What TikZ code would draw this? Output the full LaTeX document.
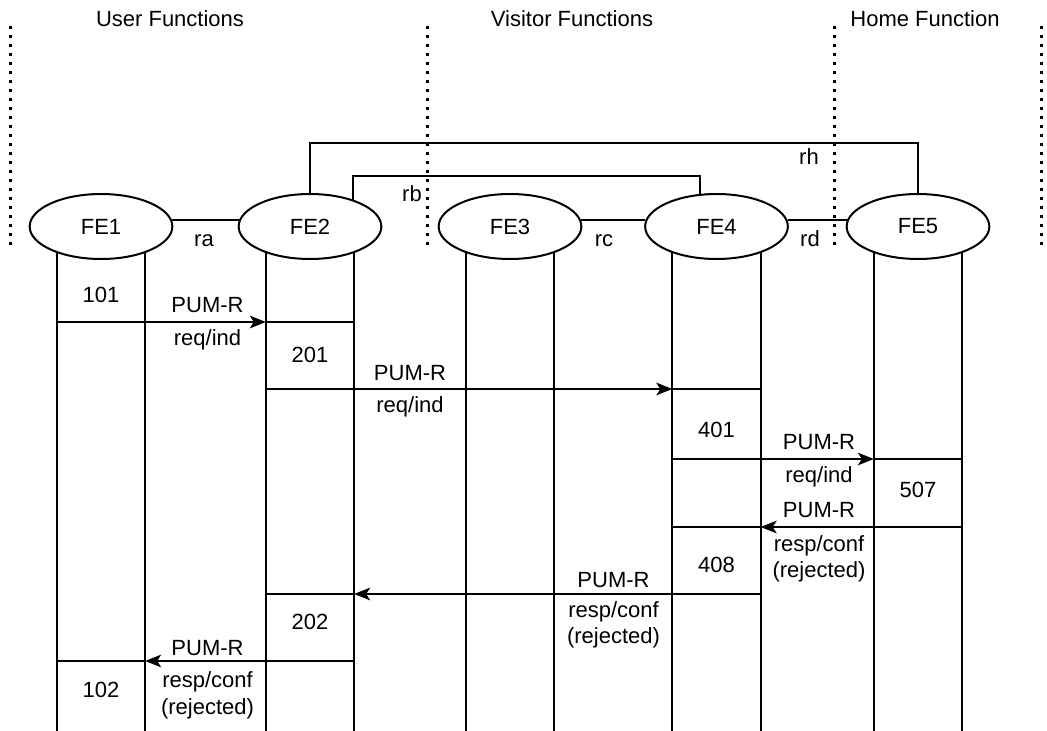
\documentclass[tikz,border=0pt]{standalone}
\usepackage{fontspec}
\setmainfont{Liberation Sans}
\usetikzlibrary{arrows.meta,shapes.geometric}
\begin{document}
\begin{tikzpicture}[x=0.75pt,y=-0.75pt,
  font=\fontsize{16.5pt}{19.5pt}\selectfont,
  line width=1.5pt,
  fe/.style={ellipse,draw,fill=white,minimum width=107pt,minimum height=48.75pt,inner sep=0pt},
  lbl/.style={inner sep=0pt,anchor=base},
  sepline/.style={line width=2.25pt,dash pattern=on 2.25pt off 4.5pt},
  msg/.style={-{Stealth[length=12pt,width=9.5pt,inset=3pt]}}]
\useasboundingbox (0,0) rectangle (1047,731);

% region separators
\draw[sepline] (10,26) -- (10,249);
\draw[sepline] (427,26) -- (427,249);
\draw[sepline] (834,26) -- (834,249);
\draw[sepline] (1041,26) -- (1041,249);

% headers
\node[lbl] (hU) at (170,27) {User Functions};
\node[lbl] (hV) at (572,27) {Visitor Functions};
\node[lbl] (hH) at (925,27) {Home Function};

% functional entities
\node[fe] (FE1) at (101,226.5) {FE1};
\node[fe] (FE2) at (310,226.5) {FE2};
\node[fe] (FE3) at (510,226.5) {FE3};
\node[fe] (FE4) at (716.5,226.5) {FE4};
\node[fe] (FE5) at (918,226.5) {FE5};

\coordinate (bot) at (0,731);
\foreach \i in {1,...,5}{
  \coordinate (L\i) at (FE\i.211);
  \coordinate (R\i) at (FE\i.329);
  \draw (L\i) -- (L\i |- bot);
  \draw (R\i) -- (R\i |- bot);
}

% relationships
\draw (FE1.5) -- (FE2.175);
\draw (FE3.5) -- (FE4.175);
\draw (FE4.5) -- (FE5.175);
\draw (FE2.32) -- (FE2.32 |- 0,176) -| (FE4.117);
\draw (FE2.north) -- (FE2.north |- 0,143) -| (FE5.north);
\node[lbl] (ra) at (204,247) {ra};
\node[lbl] (rb) at (412,202) {rb};
\node[lbl] (rc) at (604,247) {rc};
\node[lbl] (rd) at (810,247) {rd};
\node[lbl] (rh) at (809,165) {rh};

% message 1: FE1 -> FE2
\draw[msg] (L1 |- 0,322) -- (L2 |- 0,322);
\draw (L2 |- 0,322) -- (R2 |- 0,322);
\node[lbl] (n101) at (FE1 |- 0,303) {101};
\node[lbl] (m1a) at (207.5,313) {PUM-R};
\node[lbl] (m1b) at (207.5,345) {req/ind};

% message 2: FE2 -> FE4
\draw[msg] (L2 |- 0,389) -- (L4 |- 0,389);
\draw (L4 |- 0,389) -- (R4 |- 0,389);
\node[lbl] (n201) at (FE2 |- 0,362) {201};
\node[lbl] (m2a) at (410,380) {PUM-R};
\node[lbl] (m2b) at (410,412) {req/ind};

% message 3: FE4 -> FE5
\draw[msg] (L4 |- 0,459) -- (L5 |- 0,459);
\draw (L5 |- 0,459) -- (R5 |- 0,459);
\node[lbl] (n401) at (FE4 |- 0,437) {401};
\node[lbl] (m3a) at (819,449) {PUM-R};
\node[lbl] (m3b) at (819,482) {req/ind};

% message 4: FE5 -> FE4
\draw[msg] (R5 |- 0,527) -- (R4 |- 0,527);
\draw (R4 |- 0,527) -- (L4 |- 0,527);
\node[lbl] (n507) at (FE5 |- 0,497) {507};
\node[lbl] (m4a) at (819,517) {PUM-R};
\node[lbl] (m4b) at (819,551) {resp/conf};
\node[lbl] (m4c) at (819,577) {(rejected)};

% message 5: FE4 -> FE2
\draw[msg] (R4 |- 0,594) -- (R2 |- 0,594);
\draw (R2 |- 0,594) -- (L2 |- 0,594);
\node[lbl] (n408) at (FE4 |- 0,572) {408};
\node[lbl] (m5a) at (613.5,587) {PUM-R};
\node[lbl] (m5b) at (613.5,617) {resp/conf};
\node[lbl] (m5c) at (613.5,643) {(rejected)};

% message 6: FE2 -> FE1
\draw[msg] (R2 |- 0,661) -- (R1 |- 0,661);
\draw (R1 |- 0,661) -- (L1 |- 0,661);
\node[lbl] (n202) at (FE2 |- 0,629) {202};
\node[lbl] (m6a) at (207.5,655) {PUM-R};
\node[lbl] (m6b) at (207.5,687) {resp/conf};
\node[lbl] (m6c) at (207.5,714) {(rejected)};
\node[lbl] (n102) at (FE1 |- 0,697) {102};
\end{tikzpicture}
\end{document}
